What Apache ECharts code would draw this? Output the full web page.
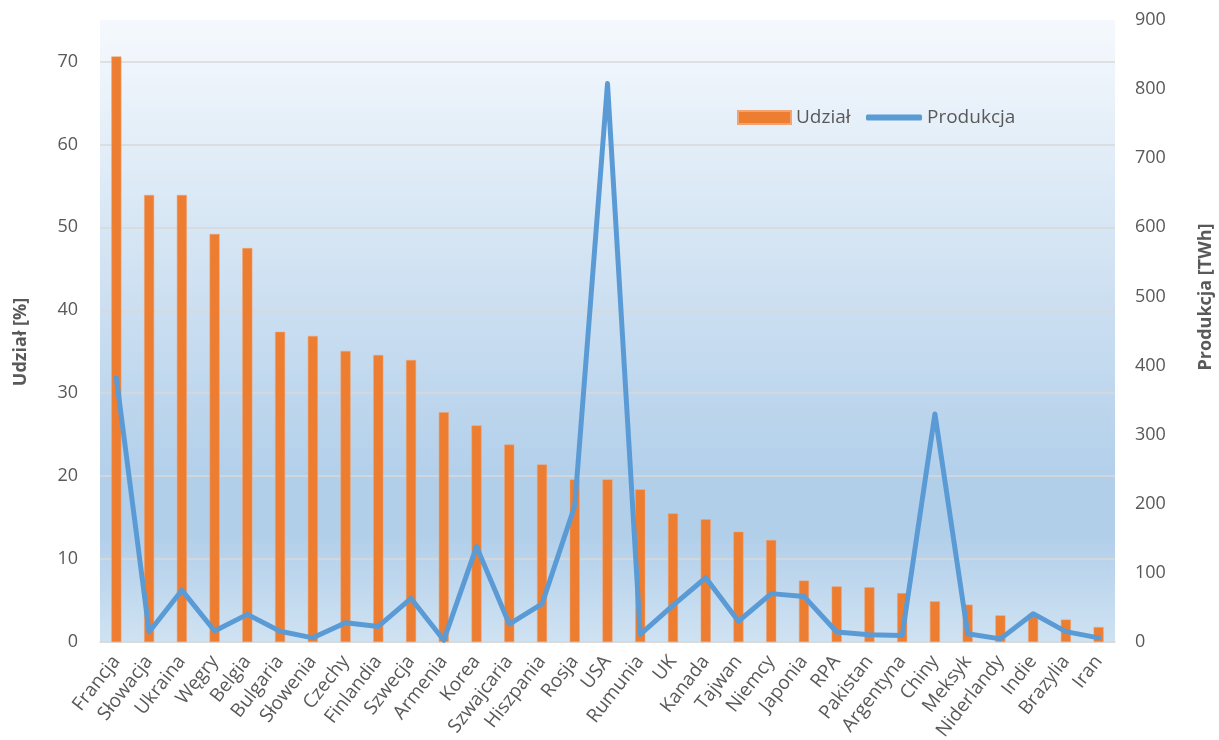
<!DOCTYPE html>
<html>
<head>
<meta charset="utf-8">
<script src="https://cdn.jsdelivr.net/npm/echarts@6/dist/echarts.min.js"></script>
<style>
  html, body { margin: 0; padding: 0; background: #ffffff; }
  #chart { width: 1219px; height: 740px; }
</style>
</head>
<body>
<div id="chart"></div>
<script>
// Kraje uporządkowane według udziału energii jądrowej
const countries = ['Francja', 'Słowacja', 'Ukraina', 'Węgry', 'Belgia', 'Bulgaria', 'Słowenia', 'Czechy',
  'Finlandia', 'Szwecja', 'Armenia', 'Korea', 'Szwajcaria', 'Hiszpania', 'Rosja', 'USA', 'Rumunia', 'UK',
  'Kanada', 'Tajwan', 'Niemcy', 'Japonia', 'RPA', 'Pakistan', 'Argentyna', 'Chiny', 'Meksyk', 'Niderlandy',
  'Indie', 'Brazylia', 'Iran'];

// Udział energii jądrowej w produkcji energii elektrycznej [%]
const shareValues = [70.6, 53.9, 53.9, 49.2, 47.5, 37.4, 36.9, 35.1, 34.6, 34.0, 27.7, 26.1, 23.8, 21.4,
  19.6, 19.6, 18.4, 15.5, 14.8, 13.3, 12.3, 7.4, 6.7, 6.6, 5.9, 4.9, 4.5, 3.2, 3.4, 2.7, 1.8];

// Produkcja energii elektrycznej w elektrowniach jądrowych [TWh]
const productionValues = [382, 14.5, 75, 16, 40, 15.5, 6, 28, 22.5, 63, 2.5, 138, 26, 55, 197, 808, 11,
  53, 93, 30, 70, 66, 14.5, 10.5, 9.5, 330, 12, 4.5, 41, 15, 6];

const seriesNames = ['Udział', 'Produkcja'];
const axisNames = ['Udział [%]', 'Produkcja [TWh]'];

const FONT = '"Open Sans", Lato, sans-serif';
const TEXT = '#595959';
const ORANGE = '#ED7D31';
const BLUE = '#5B9BD5';

const chart = echarts.init(document.getElementById('chart'), null, { renderer: 'canvas' });

const legendText = { fontSize: 19, color: TEXT, fontFamily: FONT };

chart.setOption({
  animation: false,
  textStyle: { fontFamily: FONT },
  legend: [
    {
      left: 737,
      top: 108,
      padding: 0,
      itemWidth: 53,
      itemHeight: 13,
      icon: 'rect',
      textStyle: legendText,
      data: [seriesNames[0]]
    },
    {
      left: 866,
      top: 108,
      padding: 0,
      itemWidth: 56,
      itemHeight: 6,
      icon: 'roundRect',
      itemStyle: { color: BLUE },
      textStyle: legendText,
      data: [seriesNames[1]]
    }
  ],
  grid: {
    left: 100,
    right: 104,
    top: 20,
    bottom: 98,
    outerBoundsMode: 'none',
    show: true,
    borderWidth: 0,
    backgroundColor: new echarts.graphic.LinearGradient(0, 0, 0, 1, [
      { offset: 0, color: '#f5f9fd' },
      { offset: 0.74, color: '#b2cfea' },
      { offset: 0.83, color: '#b2cfea' },
      { offset: 1, color: '#cfe2f2' }
    ])
  },
  xAxis: {
    type: 'category',
    data: countries,
    axisLine: { show: true, lineStyle: { color: '#d9d9d9', width: 1.5 } },
    axisTick: { show: false },
    axisLabel: {
      rotate: 52,
      interval: 0,
      margin: 16,
      fontSize: 19,
      color: TEXT,
      fontFamily: FONT
    }
  },
  yAxis: [
    {
      type: 'value',
      min: 0,
      max: 75,
      interval: 10,
      name: axisNames[0],
      nameLocation: 'middle',
      nameGap: 70,
      nameTextStyle: { fontSize: 18, fontWeight: 'bold', color: TEXT, fontFamily: FONT, padding: [0, 0, 0, -22] },
      axisLine: { show: false },
      axisTick: { show: false },
      axisLabel: { fontSize: 18, color: TEXT, margin: 22, showMaxLabel: false, fontFamily: FONT },
      splitLine: { show: true, showMaxLine: false, lineStyle: { color: '#d9d9d9', width: 1.5 } }
    },
    {
      type: 'value',
      min: 0,
      max: 900,
      interval: 100,
      name: axisNames[1],
      nameLocation: 'middle',
      nameGap: 82,
      nameTextStyle: { fontSize: 18, fontWeight: 'bold', color: TEXT, fontFamily: FONT, padding: [0, 0, 0, 68] },
      axisLine: { show: false },
      axisTick: { show: false },
      axisLabel: { fontSize: 18, color: TEXT, margin: 20, fontFamily: FONT },
      splitLine: { show: false }
    }
  ],
  series: [
    {
      name: seriesNames[0],
      type: 'bar',
      yAxisIndex: 0,
      data: shareValues,
      barWidth: 10,
      itemStyle: { color: ORANGE, borderColor: '#F3A36F', borderWidth: 0.5 }
    },
    {
      name: seriesNames[1],
      type: 'line',
      yAxisIndex: 1,
      data: productionValues,
      symbol: 'none',
      lineStyle: { color: BLUE, width: 5, cap: 'round', join: 'round' },
      itemStyle: { color: BLUE },
      z: 3
    }
  ]
});
</script>
</body>
</html>
